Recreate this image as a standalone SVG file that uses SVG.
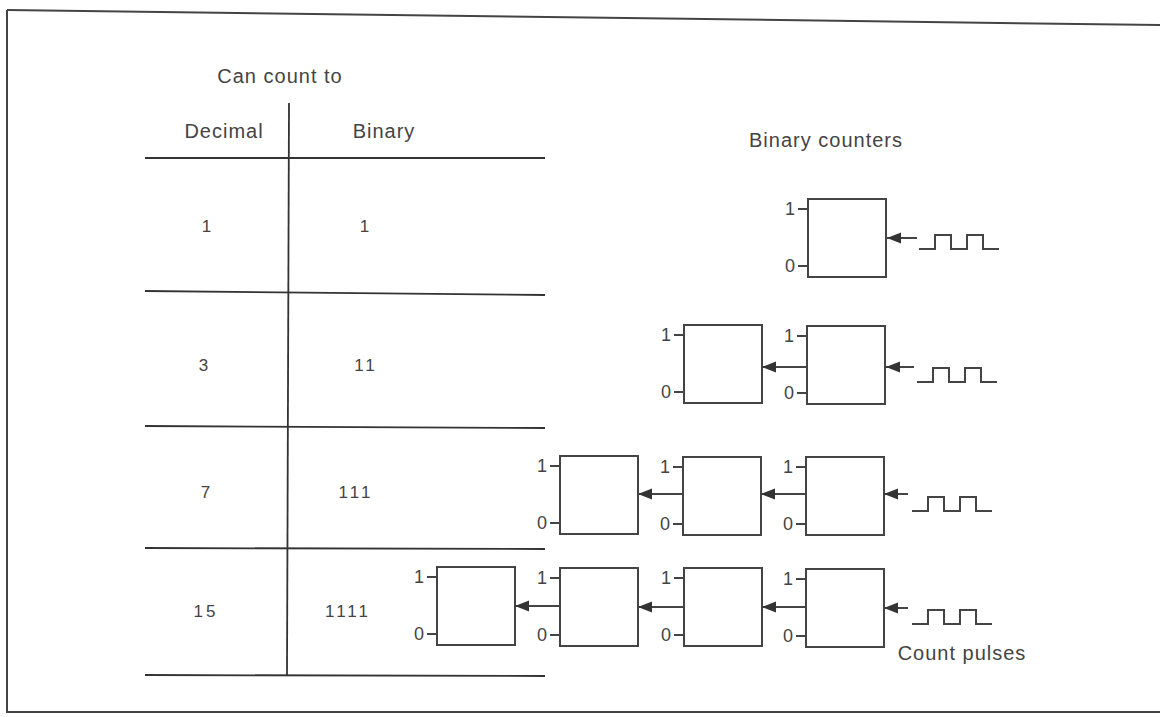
<svg xmlns="http://www.w3.org/2000/svg" width="1160" height="717" viewBox="0 0 1160 717">
<style>
.t{font-family:"Liberation Sans",Arial,sans-serif;fill:#444;font-size:20px;letter-spacing:1px}
.s{font-family:"Liberation Sans",Arial,sans-serif;fill:#444;font-size:18px}
.n{font-family:"Liberation Sans",Arial,sans-serif;fill:#444;font-size:17px;letter-spacing:3px}
.b{fill:#fff;stroke:#444;stroke-width:2}
.l{stroke:#444;stroke-width:2;fill:none}
.tl{stroke:#333;stroke-width:1.8;fill:none}
.c{stroke:#444;stroke-width:2;fill:none;marker-end:url(#ah)}
</style>
<defs>
<marker id="ah" markerUnits="userSpaceOnUse" markerWidth="15" markerHeight="12" refX="14" refY="6" orient="auto">
<path d="M0,0.5 L14,6 L0,11.5 z" fill="#333"/>
</marker>
<g id="cell">
<rect class="b" x="0" y="0" width="78" height="78"/>
<path class="l" d="M-10,10 H0 M-10,67 H0"/>
<text class="s" x="-13" y="16" text-anchor="end">1</text>
<text class="s" x="-13" y="73" text-anchor="end">0</text>
</g>
<path id="pulse" class="l" d="M0,15 H16 V1 H32 V15 H48 V1 H64 V15 H80"/>
</defs>
<rect width="1160" height="717" fill="#fff"/>
<g id="frame">
<path class="l" d="M7,10 L1160,25" stroke-width="2.5"/>
<path class="l" d="M7,10 V712 H1160" stroke-width="2.5"/>
</g>
<g id="table">
<path class="tl" d="M289,103 L287,675"/>
<path class="tl" d="M145,158 H545"/>
<path class="tl" d="M145,291 L545,295"/>
<path class="tl" d="M145,426 L545,428"/>
<path class="tl" d="M145,548 L545,549"/>
<path class="tl" d="M145,675 L545,676"/>
<text class="t" x="280" y="83" text-anchor="middle">Can count to</text>
<text class="t" x="224" y="138" text-anchor="middle">Decimal</text>
<text class="t" x="384" y="138" text-anchor="middle">Binary</text>
<text class="n" x="208" y="232" text-anchor="middle">1</text>
<text class="n" x="366" y="232" text-anchor="middle">1</text>
<text class="n" x="205" y="371" text-anchor="middle">3</text>
<text class="n" x="366" y="371" text-anchor="middle">11</text>
<text class="n" x="207" y="498" text-anchor="middle">7</text>
<text class="n" x="356" y="498" text-anchor="middle">111</text>
<text class="n" x="206" y="617" text-anchor="middle">15</text>
<text class="n" x="348" y="617" text-anchor="middle">1111</text>
</g>
<text class="t" x="826" y="147" text-anchor="middle">Binary counters</text>
<text class="t" x="962" y="660" text-anchor="middle">Count pulses</text>
<g id="row1-c1"><use href="#cell" x="808" y="199"/></g>
<g id="row2-c1"><use href="#cell" x="684" y="325"/></g>
<g id="row2-c2"><use href="#cell" x="807" y="326"/></g>
<g id="row3-c1"><use href="#cell" x="560" y="456"/></g>
<g id="row3-c2"><use href="#cell" x="683" y="457"/></g>
<g id="row3-c3"><use href="#cell" x="806" y="457"/></g>
<g id="row4-c1"><use href="#cell" x="437" y="567"/></g>
<g id="row4-c2"><use href="#cell" x="560" y="568"/></g>
<g id="row4-c3"><use href="#cell" x="684" y="568"/></g>
<g id="row4-c4"><use href="#cell" x="806" y="569"/></g>
<g id="pulses">
<use href="#pulse" x="919" y="234"/>
<use href="#pulse" x="917" y="367"/>
<use href="#pulse" x="912" y="496"/>
<use href="#pulse" x="912" y="609"/>
</g>
<g id="connectors">
<path class="c" d="M917,238 H887"/>
<path class="c" d="M914,367 H886"/>
<path class="c" d="M807,367 H762"/>
<path class="c" d="M908,494 H884"/>
<path class="c" d="M806,494 H761"/>
<path class="c" d="M683,494 H638"/>
<path class="c" d="M908,608 H884"/>
<path class="c" d="M806,607 H762"/>
<path class="c" d="M684,607 H638"/>
<path class="c" d="M560,606 H515"/>
</g>
</svg>
